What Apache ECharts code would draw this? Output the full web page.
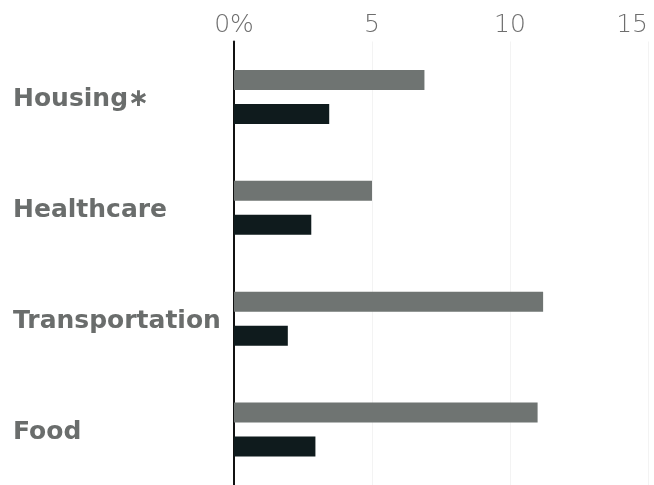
<!DOCTYPE html>
<html>
<head>
<meta charset="utf-8">
<script src="https://cdn.jsdelivr.net/npm/echarts@6/dist/echarts.min.js"></script>
<style>
html,body{margin:0;padding:0;background:#fff;}
#chart{width:654px;height:485px;}
</style>
</head>
<body>
<div id="chart"></div>
<script>
var categories = ['Housing\u2217', 'Healthcare', 'Transportation', 'Food'];
var seriesGray = [6.9, 5.0, 11.2, 11.0];
var seriesDark = [3.45, 2.8, 1.95, 2.95];
var xTicks = [0, 5, 10, 15];

var chart = echarts.init(document.getElementById('chart'), null, {renderer: 'canvas'});
chart.setOption({
  animation: false,
  backgroundColor: '#ffffff',
  grid: {left: 234, right: 6, top: 41.5, height: 448},
  xAxis: {
    type: 'value',
    position: 'top',
    min: xTicks[0],
    max: xTicks[xTicks.length - 1],
    interval: 5,
    axisLine: {show: false},
    axisTick: {show: false},
    splitLine: {show: true, lineStyle: {color: '#f3f3f3', width: 1}},
    axisLabel: {
      margin: 16,
      verticalAlign: 'middle',
      alignMaxLabel: 'right',
      color: '#6e6e6e',
      fontFamily: 'DejaVu Sans',
      fontWeight: 300,
      fontSize: 25,
      formatter: function (v) { return v === 0 ? '0%' : String(v); }
    }
  },
  yAxis: {
    type: 'category',
    data: categories,
    inverse: true,
    axisLine: {show: true, lineStyle: {color: '#111', width: 2}},
    axisTick: {show: false},
    axisLabel: {
      align: 'left',
      margin: 221,
      formatter: function (v) { return '{a|' + v + '}'; },
      rich: {
        a: {
          padding: [5, 0, 0, 0],
          color: '#6a6d6c',
          fontFamily: 'DejaVu Sans',
          fontWeight: 'bold',
          fontSize: 25
        }
      }
    }
  },
  series: [
    {type: 'bar', data: seriesGray, barWidth: 20, barGap: '70%', itemStyle: {color: '#6f7472'}},
    {type: 'bar', data: seriesDark, barWidth: 20, barGap: '70%', itemStyle: {color: '#0f1b1d'}}
  ]
});
</script>
</body>
</html>
